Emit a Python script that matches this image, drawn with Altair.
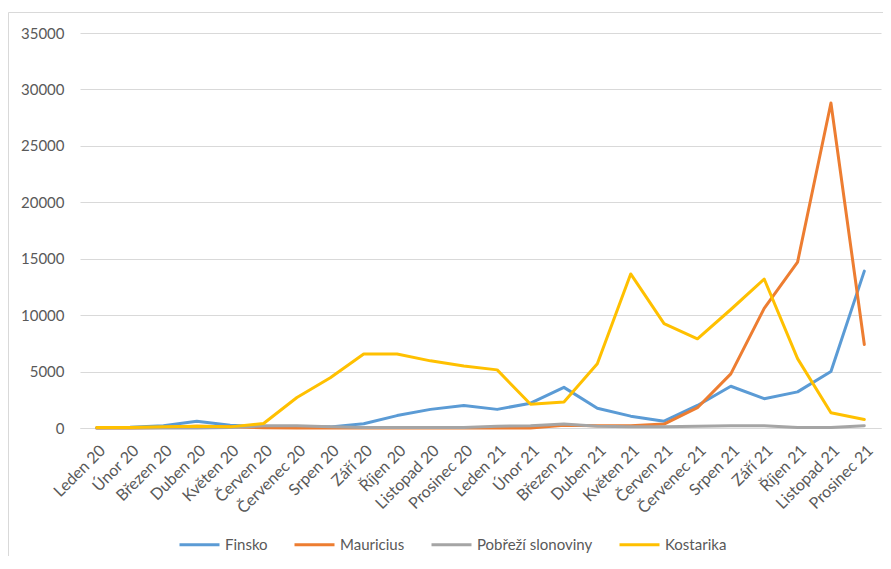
import altair as alt
import pandas as pd

months = ["Leden 20", "Únor 20", "Březen 20", "Duben 20", "Květen 20", "Červen 20",
          "Červenec 20", "Srpen 20", "Září 20", "Říjen 20", "Listopad 20", "Prosinec 20",
          "Leden 21", "Únor 21", "Březen 21", "Duben 21", "Květen 21", "Červen 21",
          "Červenec 21", "Srpen 21", "Září 21", "Říjen 21", "Listopad 21", "Prosinec 21"]

series_names = ["Finsko", "Mauricius", "Pobřeží slonoviny", "Kostarika"]
series_colors = ["#5B9BD5", "#ED7D31", "#A5A5A5", "#FFC000"]

finsko = [20, 60, 200, 600, 250, 100, 60, 100, 380, 1100, 1650, 2000,
          1650, 2200, 3600, 1750, 1050, 600, 2000, 3700, 2600, 3200, 5000, 13900]
mauricius = [0, 0, 50, 150, 100, 30, 10, 0, 0, 0, 0, 0,
             0, 0, 250, 200, 200, 350, 1800, 4800, 10600, 14700, 28800, 7400]
pobrezi = [0, 0, 0, 0, 50, 200, 200, 100, 50, 50, 50, 50,
           150, 200, 350, 150, 100, 100, 150, 200, 200, 50, 50, 200]
kostarika = [50, 50, 100, 150, 100, 400, 2700, 4450, 6550, 6550, 5950, 5500,
             5150, 2100, 2300, 5700, 13650, 9250, 7900, 10500, 13200, 6150, 1350, 750]

rows = []
for name, vals in zip(series_names, [finsko, mauricius, pobrezi, kostarika]):
    for m, v in zip(months, vals):
        rows.append({"Měsíc": m, "Hodnota": v, "Země": name})
df = pd.DataFrame(rows)

FONT = "Lato"
GREY = "#595959"

lines = alt.Chart(df).mark_line(strokeWidth=3, strokeJoin="round", strokeCap="round").encode(
    x=alt.X("Měsíc:N", sort=months, title=None,
            scale=alt.Scale(type="point", padding=0.5),
            axis=alt.Axis(labelAngle=-45, ticks=False, domain=True, domainColor="#d9d9d9",
                          grid=False, labelFont=FONT, labelFontSize=16, labelColor=GREY,
                          labelPadding=14)),
    y=alt.Y("Hodnota:Q", title=None,
            scale=alt.Scale(domain=[0, 35000], nice=False),
            axis=alt.Axis(values=list(range(0, 35001, 5000)), format="d", ticks=False,
                          domain=False, gridColor="#d9d9d9", labelFont=FONT,
                          labelFontSize=15, labelColor=GREY, labelPadding=16)),
    color=alt.Color("Země:N",
                    scale=alt.Scale(domain=series_names, range=series_colors),
                    legend=alt.Legend(title=None, orient="none", direction="horizontal",
                                      legendX=98, legendY=490,
                                      symbolType="stroke", symbolStrokeWidth=3,
                                      symbolSize=1600, labelFont=FONT, labelFontSize=15,
                                      labelColor=GREY, labelOffset=4, columnPadding=20)),
    order=alt.Order("Země:N", sort="ascending"),
)

border = alt.Chart(alt.Data(values=[{}])).mark_rect(
    fill=None, stroke="#d9d9d9", strokeWidth=1
).encode(
    x=alt.value(-71.5), x2=alt.value(900), y=alt.value(-20.5), y2=alt.value(700)
)

chart = alt.layer(border, lines).properties(
    width=801, height=395,
    autosize=alt.AutoSizeParams(type="none"),
    padding={"left": 72, "top": 25, "right": 2, "bottom": 128},
).configure_view(stroke=None)

chart.save("out.html", embed_options={"renderer": "svg", "actions": False})
